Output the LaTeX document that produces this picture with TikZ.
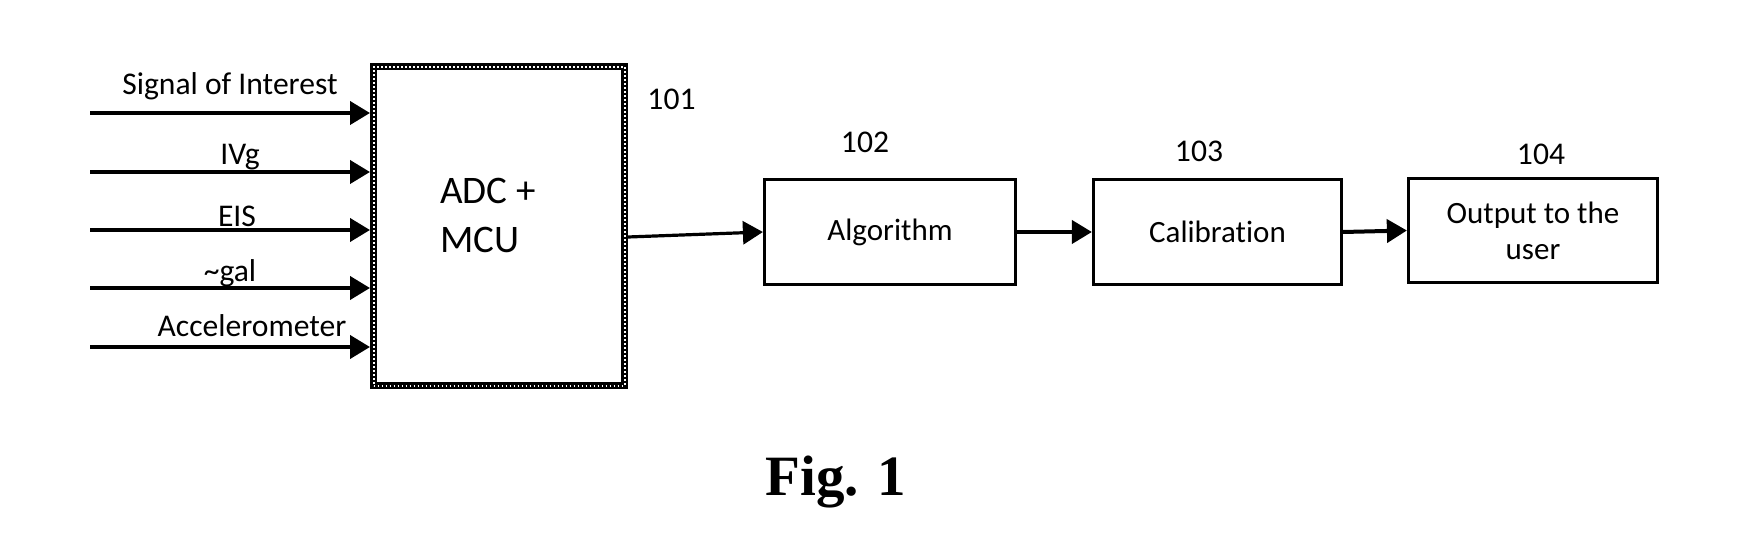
\documentclass[tikz,border=0pt]{standalone}
\usepackage{fontspec}
\setmainfont{Carlito}[Ligatures=NoCommon]
\newfontfamily\figfont{Liberation Serif}
\usetikzlibrary{arrows.meta}
\tikzset{
  block/.style={draw, rectangle, line width=1.6pt, inner sep=0pt, align=center, font=\fontsize{15.5}{18}\selectfont},
  mcu/.style={draw, rectangle, line width=3.5pt, inner sep=0pt,
    postaction={draw, white, line width=1pt, dash pattern=on 0.8pt off 1.2pt}},
  tag/.style={anchor=base, inner sep=0pt, font=\fontsize{15.8}{18}\selectfont},
  sig/.style={-{Triangle[length=10pt,width=11.5pt]}, line width=2pt}
}

\begin{document}
\begin{tikzpicture}[x=0.5pt, y=-0.5pt]
  \useasboundingbox (0,0) rectangle (1742,534);
  % Main blocks (101..104)
  \node[mcu, minimum width=125.5pt, minimum height=159.5pt] (adc) at (499,226.5) {};
  \node[anchor=west, inner sep=0pt, align=left, font=\fontsize{19.5}{24.5}\selectfont] (adctext) at (440,215) {ADC +\\MCU};
  \node[block, minimum width=125.5pt, minimum height=52.5pt] (alg) at (890,232) {Algorithm};
  \node[block, minimum width=124pt, minimum height=52.5pt] (cal) at (1217.5,232) {Calibration};
  \node[block, minimum width=124.5pt, minimum height=52pt] (out) at (1533,230.5) {Output to the\\user};
  % Reference numbers
  \node[tag] (n101) at (671.5,110) {101};
  \node[tag] (n102) at (865,153) {102};
  \node[tag] (n103) at (1199,162) {103};
  \node[tag] (n104) at (1541,165) {104};
  % Input signals into the ADC
  \foreach \i/\y/\lx/\ly/\lab in {1/113/230/95/Signal of Interest, 2/172/240/165/IVg, 3/230/237/227/EIS, 4/288/230/282/\textasciitilde gal, 5/347/252/337/Accelerometer}{
    \coordinate (in\i) at (90,\y);
    \node[tag] (lab\i) at (\lx,\ly) {\lab};
    \draw[sig] (in\i) -- (in\i -| adc.west);
  }
  % Processing chain
  \draw[sig, line width=1.6pt] ([yshift=-5.25pt]adc.east) -- (alg.west);
  \draw[sig] (alg.east) -- (cal.west);
  \draw[sig] (cal.east) -- (out.west);
  % Caption
  \node[anchor=base, inner sep=0pt, font=\figfont\bfseries\fontsize{28.5}{34}\selectfont] (fig) at (836,495) {Fig. 1};
\end{tikzpicture}
\end{document}
